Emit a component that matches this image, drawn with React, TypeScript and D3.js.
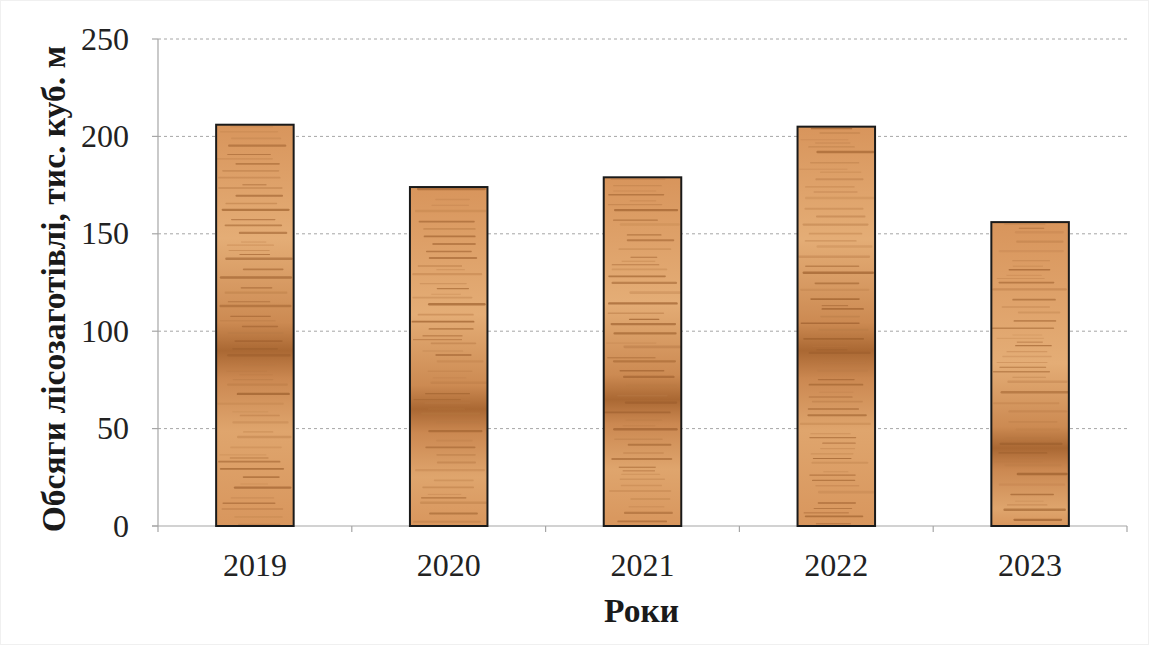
import React from "react";
import * as d3 from "d3";

const years = ["2019", "2020", "2021", "2022", "2023"];
const volumes = [206, 174, 179, 205, 156];
const darkBandAt = [90, 60, 65, 90, 40];
const yTicks = [0, 50, 100, 150, 200, 250];

const W = 1149;
const H = 645;
const margin = { left: 158, right: 22, top: 39, bottom: 119 };

// deterministic texture lines (decoration only)
function woodLines(seed: number, height: number) {
  const lines: { y: number; w: number; c: string; o: number; x0: number; x1: number }[] = [];
  let y = 2;
  let i = 0;
  while (y < height) {
    const s = Math.abs(Math.sin((i + 1) * 12.9898 + seed * 78.233) * 43758.5453) % 1;
    const s2 = Math.abs(Math.sin((i + 3) * 4.1414 + seed * 3.7) * 9631.13) % 1;
    const s3 = Math.abs(Math.sin((i + 7) * 2.313 + seed * 9.1) * 5123.77) % 1;
    lines.push({
      y,
      w: 0.8 + s * 1.8,
      c: s2 > 0.55 ? "#9c5e2c" : "#b87a45",
      o: 0.25 + s2 * 0.45,
      x0: s3 * 0.35,
      x1: 0.65 + s * 0.35,
    });
    y += 3 + s * 8;
    i++;
  }
  return lines;
}

const serif = "'Liberation Serif', 'Times New Roman', Times, serif";

export default function App() {
  const x = d3
    .scaleBand<string>()
    .domain(years)
    .range([margin.left, W - margin.right])
    .paddingInner(0.6)
    .paddingOuter(0.3);
  const band = d3.scaleBand<string>().domain(years).range([margin.left, W - margin.right]);
  const y = d3.scaleLinear().domain([0, 250]).range([H - margin.bottom, margin.top]);
  const y0 = y(0);
  const txt = { fontFamily: serif, fontSize: 32, fill: "#222" } as React.CSSProperties;
  const ttl = { fontFamily: serif, fontSize: 33.5, fontWeight: "bold", fill: "#1a1a1a" } as React.CSSProperties;

  return (
    <svg width={W} height={H} style={{ position: "fixed", left: 0, top: 0, background: "#fff" }}>
      <defs>
        {years.map((yr, i) => {
          const top = y(volumes[i]);
          const h = y0 - top;
          const dark = (y(darkBandAt[i]) - top) / h;
          return (
            <linearGradient key={yr} id={`g${i}`} x1="0" y1="0" x2="0" y2="1">
              <stop offset="0" stopColor="#d8955c" />
              <stop offset={Math.max(0, dark - 0.28)} stopColor="#e4ad76" />
              <stop offset={Math.max(0, dark - 0.07)} stopColor="#cc8a52" />
              <stop offset={dark} stopColor="#aa6833" />
              <stop offset={Math.min(1, dark + 0.07)} stopColor="#cb8851" />
              <stop offset={Math.min(1, dark + 0.2)} stopColor="#dfa56d" />
              <stop offset="1" stopColor="#d8965d" />
            </linearGradient>
          );
        })}
      </defs>
      <rect x={0.5} y={0.5} width={W - 1} height={H - 1} fill="#fff" stroke="#f0f0f0" />
      {yTicks.filter((t) => t > 0).map((t) => (
        <line
          key={t}
          x1={margin.left}
          x2={W - margin.right}
          y1={y(t)}
          y2={y(t)}
          stroke="#a6a6a6"
          strokeWidth={1}
          strokeDasharray="3,3"
        />
      ))}
      <line x1={margin.left} x2={margin.left} y1={margin.top} y2={y0} stroke="#a6a6a6" strokeWidth={1.2} />
      <line x1={margin.left - 6} x2={W - margin.right} y1={y0} y2={y0} stroke="#a6a6a6" strokeWidth={1.2} />
      {yTicks.map((t) => (
        <g key={t}>
          <line x1={margin.left - 6} x2={margin.left} y1={y(t)} y2={y(t)} stroke="#a6a6a6" strokeWidth={1.2} />
          <text x={margin.left - 29} y={y(t)} dy="0.33em" textAnchor="end" style={txt}>
            {t}
          </text>
        </g>
      ))}
      {[...years.map((yr) => band(yr) as number), W - margin.right].map((bx, i) => (
        <line key={i} x1={bx} x2={bx} y1={y0} y2={y0 + 6} stroke="#a6a6a6" strokeWidth={1.2} />
      ))}
      {years.map((yr, i) => {
        const bx = x(yr) as number;
        const bw = x.bandwidth();
        const top = y(volumes[i]);
        const h = y0 - top;
        const lines = woodLines(i + 1, h);
        return (
          <g key={yr}>
            <rect x={bx} y={top} width={bw} height={h} fill={`url(#g${i})`} />
            {lines.map((l, k) => (
              <line
                key={k}
                x1={bx + 1 + l.x0 * bw}
                x2={bx + l.x1 * bw - 1}
                y1={top + l.y}
                y2={top + l.y}
                stroke={l.c}
                strokeWidth={l.w}
                strokeOpacity={l.o}
                strokeLinecap="round"
              />
            ))}
            <rect x={bx} y={top} width={bw} height={h} fill="none" stroke="#1a1a1a" strokeWidth={2} />
            <text x={bx + bw / 2} y={565} dy="0.33em" textAnchor="middle" style={txt}>
              {yr}
            </text>
          </g>
        );
      })}
      <text
        x={(margin.left + W - margin.right) / 2 - 1}
        y={611}
        dy="0.33em"
        textAnchor="middle"
        style={ttl}
      >
        Роки
      </text>
      <text
        transform={`translate(54, 289) rotate(-90)`}
        textAnchor="middle"
        dy="0.33em"
        style={ttl}
      >
        Обсяги лісозаготівлі, тис. куб. м
      </text>
    </svg>
  );
}
